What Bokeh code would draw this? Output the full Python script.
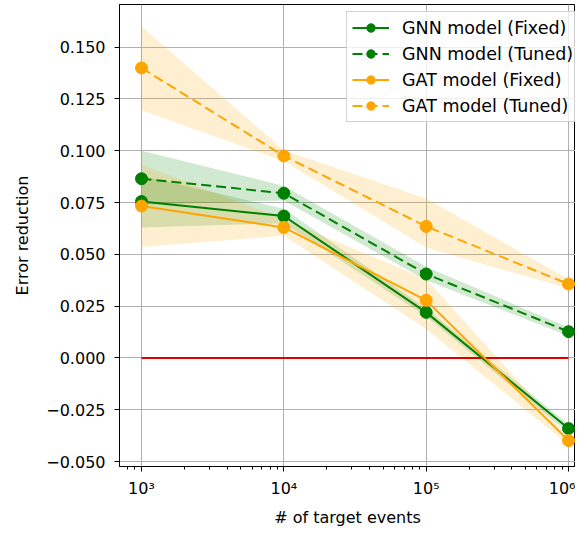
from bokeh.plotting import figure
from bokeh.models import Range1d, FixedTicker, CustomJSTickFormatter, Legend, LegendItem
from bokeh.embed import file_html
from bokeh.resources import INLINE

# ---- data ----
events = [1e3, 1e4, 1e5, 1e6]

gnn_fixed = [0.0755, 0.0685, 0.0220, -0.0341]
gnn_fixed_lo = [0.0630, 0.0650, 0.0200, -0.0361]
gnn_fixed_hi = [0.0880, 0.0720, 0.0240, -0.0321]

gnn_tuned = [0.0865, 0.0795, 0.0405, 0.0127]
gnn_tuned_lo = [0.0740, 0.0760, 0.0375, 0.0107]
gnn_tuned_hi = [0.1000, 0.0830, 0.0440, 0.0147]

gat_fixed = [0.0733, 0.0630, 0.0278, -0.0399]
gat_fixed_lo = [0.0535, 0.0590, 0.0140, -0.0419]
gat_fixed_hi = [0.0933, 0.0670, 0.0380, -0.0379]

gat_tuned = [0.1400, 0.0975, 0.0635, 0.0357]
gat_tuned_lo = [0.1195, 0.0950, 0.0533, 0.0335]
gat_tuned_hi = [0.1600, 0.1003, 0.0770, 0.0380]

zero_x = [1e3, 1e6]
zero_y = [0.0, 0.0]

y_ticks = [-0.05, -0.025, 0.0, 0.025, 0.05, 0.075, 0.1, 0.125, 0.15]
x_ticks = [1e3, 1e4, 1e5, 1e6]

labels = ["GNN model (Fixed)", "GNN model (Tuned)", "GAT model (Fixed)", "GAT model (Tuned)"]

GREEN = "#008000"
ORANGE = "#FFA500"
FONT = "DejaVu Sans"

W, H = 575, 529
LEFT, TOP, BOTTOM = 119, 4, 59

p = figure(width=W, height=H, x_axis_type="log",
           x_range=Range1d(10 ** 2.8454, 10 ** 6.049),
           y_range=Range1d(-0.0524, 0.1706),
           output_backend="svg", toolbar_location=None,
           min_border_left=LEFT, min_border_right=0, min_border_top=TOP,
           min_border_bottom=BOTTOM)

p.background_fill_color = "white"
p.border_fill_color = "white"
p.outline_line_color = "black"
p.outline_line_width = 1
p.outline_line_alpha = 1

series = [
    (gnn_fixed, gnn_fixed_lo, gnn_fixed_hi, GREEN, None),
    (gnn_tuned, gnn_tuned_lo, gnn_tuned_hi, GREEN, "10 5"),
    (gat_fixed, gat_fixed_lo, gat_fixed_hi, ORANGE, None),
    (gat_tuned, gat_tuned_lo, gat_tuned_hi, ORANGE, "10 5"),
]
for ys, lo, hi, col, dash in series:
    p.varea(x=events, y1=lo, y2=hi, fill_color=col, fill_alpha=0.18)

p.line(zero_x, zero_y, line_color="#e00000", line_width=2)

items = []
for (ys, lo, hi, col, dash), lab in zip(series, labels):
    kw = {}
    if dash:
        kw["line_dash"] = dash
    r1 = p.line(events, ys, line_color=col, line_width=2, **kw)
    r2 = p.scatter(events, ys, size=12, fill_color=col, line_color=col)
    items.append(LegendItem(label=lab, renderers=[r1, r2]))

frame_h = H - TOP - BOTTOM
legend_h = 2 * 5 + 4 * 21 + 3 * 5
legend = Legend(items=items, location=(346 - LEFT, frame_h - 13 - legend_h))
legend.label_text_font = FONT
legend.label_text_font_size = "17.5px"
legend.label_text_color = "black"
legend.glyph_width = 37
legend.glyph_height = 21
legend.label_height = 21
legend.label_standoff = 13
legend.spacing = 5
legend.padding = 5
legend.margin = 0
legend.border_line_color = "#cccccc"
legend.border_line_alpha = 0.9
legend.background_fill_alpha = 0.8
p.add_layout(legend)

p.xaxis.ticker = FixedTicker(
    ticks=x_ticks,
    minor_ticks=[m * 10 ** d for d in range(2, 6) for m in range(2, 10)])
p.xaxis.formatter = CustomJSTickFormatter(code="""
const sup = {'0':'\u2070','1':'\u00b9','2':'\u00b2','3':'\u00b3','4':'\u2074','5':'\u2075','6':'\u2076','7':'\u2077','8':'\u2078','9':'\u2079','-':'\u207b'};
const e = Math.round(Math.log10(tick));
return '10' + String(e).split('').map(c => sup[c]).join('');
""")
p.yaxis.ticker = FixedTicker(ticks=y_ticks, minor_ticks=[])
p.yaxis.formatter = CustomJSTickFormatter(code="""
if (Math.abs(tick) < 1e-9) return '0.000';
return (tick < 0 ? '\u2212' : '') + Math.abs(tick).toFixed(3);
""")

for ax in (p.xaxis, p.yaxis):
    ax.axis_line_color = "black"
    ax.major_tick_line_color = "black"
    ax.minor_tick_line_color = "black"
    ax.major_tick_in = 0
    ax.major_tick_out = 5
    ax.minor_tick_in = 0
    ax.minor_tick_out = 3
    ax.major_label_text_font = FONT
    ax.major_label_text_font_size = "16px"
    ax.major_label_text_color = "black"
    ax.axis_label_text_font = FONT
    ax.axis_label_text_font_size = "16px"
    ax.axis_label_text_font_style = "normal"
    ax.axis_label_text_color = "black"

p.xaxis.axis_label = "# of target events"
p.yaxis.axis_label = "Error reduction"
p.xaxis.major_label_standoff = 7
p.xaxis.axis_label_standoff = 7
p.yaxis.major_label_standoff = 9
p.yaxis.axis_label_standoff = 11

p.xgrid.ticker = FixedTicker(ticks=x_ticks)
p.ygrid.ticker = FixedTicker(ticks=y_ticks)
for g in (p.xgrid, p.ygrid):
    g.grid_line_color = "#b0b0b0"
    g.grid_line_width = 1

open("out.html", "w").write(file_html(p, INLINE))
